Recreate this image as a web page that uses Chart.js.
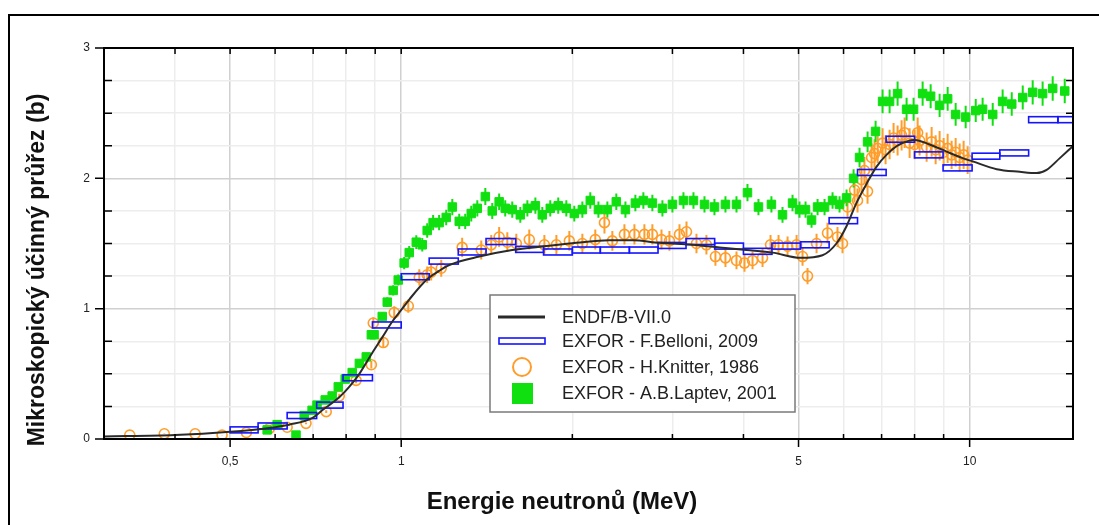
<!DOCTYPE html>
<html>
<head>
<meta charset="utf-8">
<script src="https://cdn.jsdelivr.net/npm/chart.js@4.4.0/dist/chart.umd.min.js"></script>
<style>
  html, body { margin: 0; padding: 0; background: #fff; }
</style>
</head>
<body>
<canvas id="chart" width="1099" height="525"></canvas>
<script>
// ---- data (energy in MeV, cross section in b) ----
const endfEnergy = [0.3, 0.4, 0.5, 0.586, 0.635, 0.697, 0.726, 0.778, 0.81, 0.844, 0.889, 0.926, 0.964, 1.0,
  1.033, 1.107, 1.166, 1.215, 1.372, 1.568, 1.8, 2.033, 2.324, 2.551, 2.846, 3.253, 3.63, 4.05, 4.5, 5.04,
  5.51, 5.83, 6.07, 6.32, 6.59, 6.86, 7.14, 7.53, 8.0, 8.5, 9.11, 9.72, 10.12, 11.16, 12.25, 13.12, 13.66,
  14.41, 15.18];
const endfXS = [0.02, 0.03, 0.055, 0.085, 0.11, 0.16, 0.22, 0.32, 0.40, 0.50, 0.66, 0.78, 0.90, 0.99,
  1.07, 1.22, 1.29, 1.335, 1.40, 1.45, 1.48, 1.505, 1.525, 1.525, 1.505, 1.49, 1.47, 1.45, 1.43, 1.39,
  1.41, 1.50, 1.63, 1.81, 1.96, 2.09, 2.18, 2.26, 2.295, 2.26, 2.205, 2.155, 2.13, 2.07, 2.05, 2.04, 2.065,
  2.155, 2.245];

// Belloni 2009 - histogram bins
const bellEdges = [0.5, 0.56, 0.63, 0.71, 0.79, 0.89, 1.0, 1.12, 1.26, 1.41, 1.59, 1.78, 2.0, 2.24, 2.52,
  2.83, 3.17, 3.56, 4.0, 4.49, 5.04, 5.66, 6.35, 7.13, 8.0, 8.98, 10.1, 11.3, 12.7, 14.3, 16.0];
const bellXS = [0.07, 0.10, 0.18, 0.26, 0.47, 0.875, 1.245, 1.365, 1.435, 1.515, 1.455, 1.435, 1.45, 1.45,
  1.45, 1.485, 1.515, 1.48, 1.44, 1.48, 1.49, 1.675, 2.045, 2.30, 2.18, 2.08, 2.17, 2.195, 2.45, 2.45];

// Knitter 1986 [E, xs]
const knitterPts = [[0.333,0.03],[0.383,0.04],[0.434,0.04],[0.484,0.03],[0.534,0.05],[0.586,0.08],[0.630,0.09],
  [0.680,0.12],[0.738,0.21],[0.778,0.33],[0.833,0.45],[0.886,0.57],[0.893,0.89],[0.930,0.74],[0.972,0.97],
  [1.029,1.02],[1.076,1.24],[1.111,1.26],[1.129,1.28],[1.176,1.31],[1.280,1.47],[1.383,1.45],[1.440,1.49],
  [1.487,1.55],[1.537,1.51],[1.594,1.50],[1.680,1.53],[1.786,1.49],[1.875,1.49],[1.976,1.52],[2.083,1.50],
  [2.195,1.53],[2.278,1.66],[2.352,1.52],[2.470,1.57],[2.572,1.57],[2.678,1.57],[2.766,1.57],[2.870,1.53],
  [2.964,1.52],[3.087,1.57],[3.176,1.59],[3.307,1.50],[3.443,1.49],[3.571,1.40],[3.719,1.39],[3.889,1.37],
  [4.017,1.35],[4.150,1.37],[4.322,1.39],[4.464,1.49],[4.611,1.49],[4.783,1.48],[4.961,1.49],[5.082,1.40],
  [5.186,1.25],[5.379,1.50],[5.623,1.58],[5.855,1.55],[5.975,1.50],[6.098,1.78],[6.274,1.91],[6.35,1.83],
  [6.454,1.99],[6.53,2.06],[6.613,1.90],[6.722,2.16],[6.803,2.19],[6.89,2.23],[7.028,2.27],[7.114,2.22],
  [7.231,2.26],[7.348,2.31],[7.469,2.29],[7.591,2.33],[7.684,2.35],[7.842,2.27],[8.003,2.26],[8.101,2.35],
  [8.166,2.29],[8.401,2.24],[8.573,2.28],[8.713,2.22],[8.855,2.25],[9.000,2.20],[9.148,2.23],[9.296,2.18],
  [9.449,2.20],[9.603,2.16],[9.759,2.18],[9.919,2.14]];

// Laptev 2001 [E, xs]
const laptevPts = [[0.581,0.07],[0.605,0.11],[0.653,0.03],[0.675,0.18],[0.697,0.22],[0.711,0.26],[0.735,0.30],
  [0.756,0.33],[0.775,0.40],[0.797,0.46],[0.820,0.51],[0.844,0.58],[0.868,0.63],[0.886,0.80],[0.896,0.80],
  [0.926,0.94],[0.945,1.05],[0.968,1.14],[0.988,1.22],[1.012,1.35],[1.033,1.43],[1.063,1.51],[1.089,1.49],
  [1.111,1.60],[1.138,1.66],[1.166,1.66],[1.200,1.70],[1.230,1.78],[1.265,1.67],[1.296,1.67],[1.328,1.73],
  [1.361,1.77],[1.406,1.86],[1.446,1.75],[1.487,1.82],[1.524,1.77],[1.568,1.76],[1.620,1.72],[1.667,1.77],
  [1.722,1.79],[1.771,1.72],[1.829,1.77],[1.889,1.79],[1.952,1.77],[2.016,1.73],[2.083,1.76],[2.151,1.83],
  [2.223,1.76],[2.305,1.76],[2.390,1.82],[2.480,1.76],[2.582,1.81],[2.667,1.83],[2.766,1.81],[2.881,1.77],
  [3.000,1.80],[3.137,1.83],[3.267,1.83],[3.416,1.80],[3.557,1.78],[3.719,1.80],[3.889,1.80],[4.066,1.89],
  [4.251,1.78],[4.480,1.80],[4.686,1.72],[4.880,1.81],[5.020,1.76],[5.144,1.76],[5.271,1.68],[5.401,1.78],
  [5.556,1.78],[5.739,1.83],[5.904,1.80],[6.074,1.85],[6.249,2.00],[6.402,2.16],[6.614,2.28],[6.832,2.36],
  [7.028,2.59],[7.231,2.59],[7.469,2.65],[7.746,2.53],[7.969,2.53],[8.266,2.65],[8.539,2.63],[8.855,2.56],
  [9.148,2.61],[9.449,2.49],[9.840,2.47],[10.25,2.52],[10.54,2.53],[10.98,2.49],[11.43,2.59],[11.86,2.57],
  [12.40,2.62],[12.91,2.66],[13.44,2.65],[14.00,2.69],[14.70,2.67]];

const knitterRelErr = 0.05;
const laptevRelErr = 0.035;

// axis ticks
const xTickValues = [0.4, 0.5, 0.6, 0.7, 0.8, 0.9, 1, 2, 3, 4, 5, 6, 7, 8, 9, 10];
const xMajor = [0.5, 1, 5, 10];
const xLabels = { 0.5: "0,5", 1: "1", 5: "5", 10: "10" };

const legendNames = ["ENDF/B-VII.0", "EXFOR - F.Belloni, 2009", "EXFOR - H.Knitter, 1986", "EXFOR - A.B.Laptev, 2001"];
const xTitle = "Energie neutronů (MeV)";
const yTitle = "Mikroskopický účinný průřez (b)";

const BLUE = "#1414ff", ORANGE = "#ff9d2b", GREEN = "#10e010", LINE = "#2a2a2a";
const FONT = "'Liberation Sans', Arial, sans-serif";

function errorBars(ctx, xs, ys, pts, rel, color) {
  ctx.strokeStyle = color;
  ctx.lineWidth = 2;
  ctx.beginPath();
  pts.forEach(([e, v]) => {
    const x = xs.getPixelForValue(e);
    ctx.moveTo(x, ys.getPixelForValue(v - v * rel));
    ctx.lineTo(x, ys.getPixelForValue(v + v * rel));
  });
  ctx.stroke();
}

const decor = {
  id: "decor",
  beforeDraw(chart) {
    const ctx = chart.ctx;
    ctx.save();
    ctx.fillStyle = "#fff";
    ctx.fillRect(0, 0, chart.width, chart.height);
    ctx.restore();
  },
  beforeDatasetsDraw(chart) {
    const { ctx, chartArea: a, scales: { x, y } } = chart;
    ctx.save();
    ctx.beginPath(); ctx.rect(a.left, a.top, a.right - a.left, a.bottom - a.top); ctx.clip();
    errorBars(ctx, x, y, knitterPts, knitterRelErr, ORANGE);
    errorBars(ctx, x, y, laptevPts, laptevRelErr, GREEN);
    ctx.restore();
  },
  afterDatasetDraw(chart, args) {
    if (args.index !== 2) return; // boxes go above the green points, under the ENDF line
    const { ctx, chartArea: a, scales: { x, y } } = chart;
    ctx.save();
    ctx.beginPath(); ctx.rect(a.left, a.top, a.right - a.left, a.bottom - a.top); ctx.clip();
    ctx.strokeStyle = BLUE;
    ctx.lineWidth = 1.6;
    bellXS.forEach((v, i) => {
      const x1 = x.getPixelForValue(bellEdges[i]);
      const x2 = x.getPixelForValue(bellEdges[i + 1]);
      const yc = y.getPixelForValue(v);
      ctx.strokeRect(x1, yc - 3, x2 - x1, 6);
    });
    ctx.restore();
  },
  afterDraw(chart) {
    const { ctx, chartArea: a, scales: { x, y } } = chart;
    ctx.save();
    // plot frame
    ctx.strokeStyle = "#000";
    ctx.lineWidth = 2;
    ctx.strokeRect(a.left, a.top, a.right - a.left, a.bottom - a.top);
    // ticks
    ctx.lineWidth = 1.5;
    ctx.beginPath();
    xTickValues.forEach(v => {
      const px = x.getPixelForValue(v);
      if (xMajor.includes(v)) { ctx.moveTo(px, a.bottom); ctx.lineTo(px, a.bottom + 8); }
      else { ctx.moveTo(px, a.bottom); ctx.lineTo(px, a.bottom - 5); }
      ctx.moveTo(px, a.top); ctx.lineTo(px, a.top + 6);
    });
    for (let v = 0; v <= 3.001; v += 0.25) {
      const py = y.getPixelForValue(v);
      if (Math.abs(v - Math.round(v)) < 1e-6) { ctx.moveTo(a.left - 9, py); ctx.lineTo(a.left, py); }
      else { ctx.moveTo(a.left, py); ctx.lineTo(a.left + 8, py); }
      ctx.moveTo(a.right, py); ctx.lineTo(a.right - 7, py);
    }
    ctx.stroke();

    // outer frame
    ctx.lineWidth = 2;
    ctx.strokeRect(9, 15, 1200, 600);

    // axis titles
    ctx.fillStyle = "#111";
    ctx.textAlign = "center";
    ctx.textBaseline = "middle";
    ctx.font = "bold 24px " + FONT;
    ctx.fillText(xTitle, 562, 502);
    ctx.save();
    ctx.translate(38, 270);
    ctx.rotate(-Math.PI / 2);
    ctx.font = "bold 23px " + FONT;
    ctx.fillText(yTitle, 0, 0);
    ctx.restore();

    // legend
    const lx = 490, ly = 295, lw = 305, lh = 117;
    ctx.fillStyle = "#fff";
    ctx.fillRect(lx, ly, lw, lh);
    ctx.strokeStyle = "#7a7a7a";
    ctx.lineWidth = 1.5;
    ctx.strokeRect(lx, ly, lw, lh);
    const rows = [317, 341, 367, 393];
    ctx.strokeStyle = LINE; ctx.lineWidth = 3;
    ctx.beginPath(); ctx.moveTo(498, rows[0]); ctx.lineTo(545, rows[0]); ctx.stroke();
    ctx.strokeStyle = BLUE; ctx.lineWidth = 1.6;
    ctx.strokeRect(499, rows[1] - 3, 46, 6);
    ctx.strokeStyle = ORANGE; ctx.lineWidth = 2;
    ctx.beginPath(); ctx.arc(522, rows[2], 9, 0, Math.PI * 2); ctx.stroke();
    ctx.fillStyle = GREEN;
    ctx.fillRect(512, rows[3] - 10, 21, 21);
    ctx.fillStyle = "#222";
    ctx.font = "18px " + FONT;
    ctx.textAlign = "left";
    legendNames.forEach((t, i) => ctx.fillText(t, 562, rows[i] + 1));
    ctx.restore();
  }
};

new Chart(document.getElementById("chart"), {
  type: "scatter",
  data: {
    datasets: [
      {
        label: legendNames[0],
        data: endfEnergy.map((e, i) => ({ x: e, y: endfXS[i] })),
        showLine: true,
        borderColor: LINE,
        borderWidth: 2,
        pointRadius: 0,
        cubicInterpolationMode: "monotone",
        order: 0,
      },
      {
        label: legendNames[2],
        data: knitterPts.map(([e, v]) => ({ x: e, y: v })),
        pointStyle: "circle",
        pointRadius: 5,
        borderColor: ORANGE,
        borderWidth: 1.6,
        backgroundColor: "rgba(0,0,0,0)",
        order: 3,
      },
      {
        label: legendNames[3],
        data: laptevPts.map(([e, v]) => ({ x: e, y: v })),
        pointStyle: "rect",
        pointRadius: 6,
        borderColor: GREEN,
        borderWidth: 1,
        backgroundColor: GREEN,
        order: 2,
      },
    ],
  },
  options: {
    responsive: false,
    animation: false,
    events: [],
    layout: { padding: { left: 9, top: 48, right: 26, bottom: 0 } },
    plugins: { legend: { display: false }, tooltip: { enabled: false } },
    scales: {
      x: {
        type: "logarithmic",
        min: 0.3,
        max: 15.2,
        afterBuildTicks: (s) => { s.ticks = xTickValues.map(v => ({ value: v })); },
        afterFit: (s) => { s.height = 86; },
        border: { display: false },
        grid: {
          drawTicks: false,
          color: (c) => (c.tick && xMajor.includes(c.tick.value) ? "#d0d0d0" : "#ededed"),
          lineWidth: 1.5,
        },
        ticks: {
          autoSkip: false,
          maxRotation: 0,
          padding: 15,
          color: "#222",
          font: { family: FONT, size: 12 },
          callback: (v) => xLabels[v] || "",
        },
      },
      y: {
        min: 0,
        max: 3,
        afterFit: (s) => { s.width = 95; },
        border: { display: false },
        grid: {
          drawTicks: false,
          color: (c) => (c.tick && Number.isInteger(c.tick.value) ? "#d0d0d0" : "#ededed"),
          lineWidth: 1.5,
        },
        ticks: {
          stepSize: 0.25,
          autoSkip: false,
          padding: 14,
          color: "#222",
          font: { family: FONT, size: 12 },
          callback: (v) => (Number.isInteger(v) ? String(v) : ""),
        },
      },
    },
  },
  plugins: [decor],
});
</script>
</body>
</html>
